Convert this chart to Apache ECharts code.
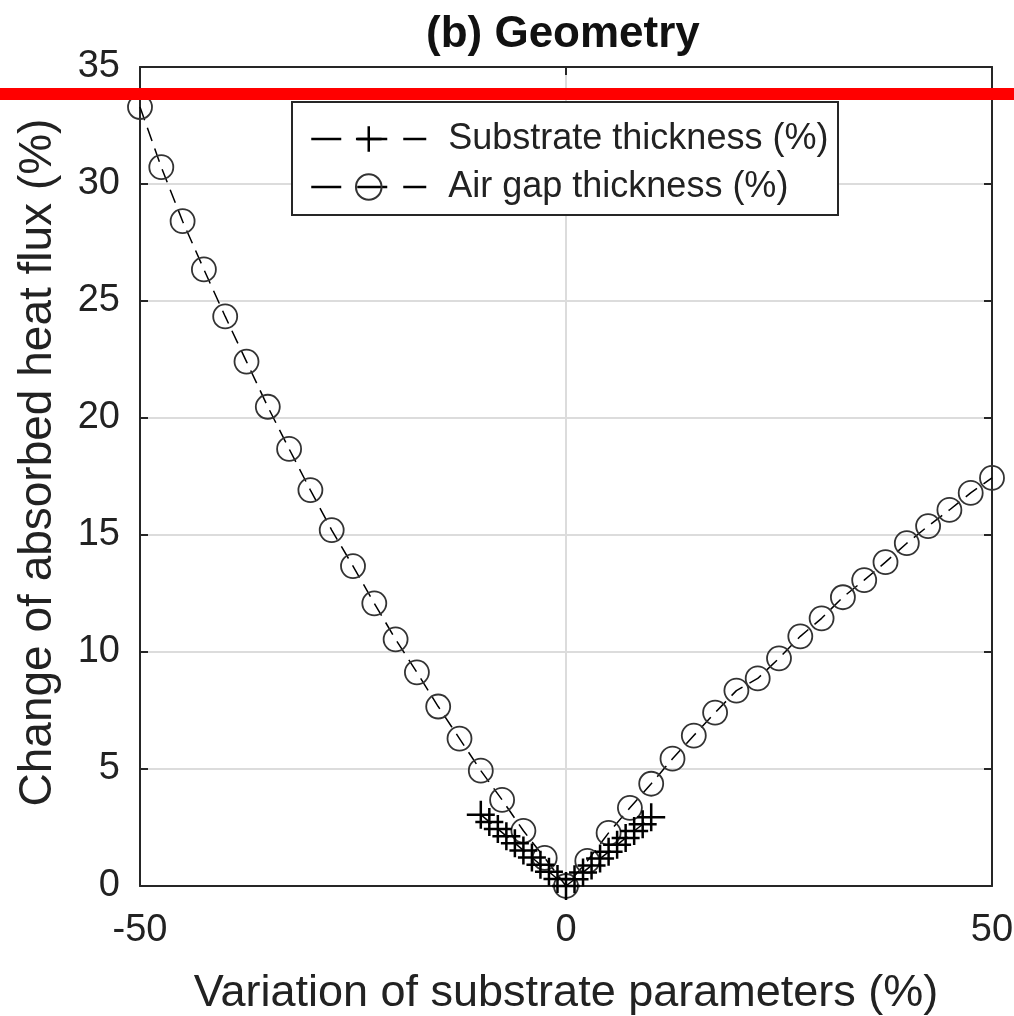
<!DOCTYPE html>
<html>
<head>
<meta charset="utf-8">
<title>(b) Geometry</title>
<script src="https://cdn.jsdelivr.net/npm/echarts@6/dist/echarts.min.js"></script>
<style>
  html, body { margin: 0; padding: 0; background: #fff; }
  #chart { width: 1014px; height: 1016px; }
</style>
</head>
<body>
<div id="chart"></div>
<script>
// Substrate thickness variation (%) and resulting change of absorbed heat flux (%)
const substrateX = [-10, -9, -8, -7, -6, -5, -4, -3, -2, -1, 0, 1, 2, 3, 4, 5, 6, 7, 8, 9, 10];
const substrateY = [3.05, 2.74, 2.44, 2.13, 1.83, 1.52, 1.22, 0.91, 0.61, 0.30, 0,
                    0.29, 0.58, 0.88, 1.17, 1.46, 1.76, 2.05, 2.35, 2.64, 2.94];

// Air gap thickness variation (%) and resulting change of absorbed heat flux (%)
const airGapX = [-50, -47.5, -45, -42.5, -40, -37.5, -35, -32.5, -30, -27.5, -25, -22.5, -20,
                 -17.5, -15, -12.5, -10, -7.5, -5, -2.5, 0,
                 2.5, 5, 7.5, 10, 12.5, 15, 17.5, 20, 22.5, 25, 27.5, 30, 32.5, 35, 37.5,
                 40, 42.5, 45, 47.5, 50];
const airGapY = [33.29, 30.72, 28.41, 26.35, 24.34, 22.41, 20.48, 18.68, 16.92, 15.21, 13.67,
                 12.08, 10.54, 9.13, 7.67, 6.30, 4.93, 3.68, 2.36, 1.20, 0,
                 1.07, 2.27, 3.34, 4.37, 5.44, 6.43, 7.41, 8.35, 8.87, 9.73, 10.67, 11.44,
                 12.34, 13.07, 13.84, 14.65, 15.38, 16.07, 16.80, 17.44];

// Axis ranges and tick steps
const xRange = [-50, 50], xStep = 50;
const yRange = [0, 35], yStep = 5;

const seriesNames = ['Substrate thickness (%)', 'Air gap thickness (%)'];
const titleText = '(b) Geometry';
const xTitle = 'Variation of substrate parameters (%)';
const yTitle = 'Change of absorbed heat flux (%)';

const FONT = '"Liberation Sans", Arial, Helvetica, sans-serif';
const INK = '#262626';

const zip = (xs, ys) => xs.map((x, i) => [x, ys[i]]);

const frameLine = { show: true, onZero: false, lineStyle: { color: INK, width: 2 } };
const innerTick = { show: true, inside: true, length: 8, lineStyle: { color: INK, width: 2 } };

// mirrored axes that close the box and repeat the ticks on the top and right sides
const mirrorAxis = {
  axisLine: frameLine,
  axisTick: innerTick,
  axisLabel: { show: false },
  splitLine: { show: false }
};

const chart = echarts.init(document.getElementById('chart'), null, { renderer: 'canvas' });

chart.setOption({
  backgroundColor: '#fff',
  animation: false,
  textStyle: { fontFamily: FONT },
  title: {
    text: titleText,
    left: 421,
    top: 8,
    textStyle: { fontFamily: FONT, fontSize: 44, fontWeight: 'bold', color: '#111' }
  },
  grid: { left: 140, right: 22, top: 67, bottom: 130, outerBoundsMode: 'none', containLabel: false },
  xAxis: [
    {
      type: 'value', min: xRange[0], max: xRange[1], interval: xStep,
      name: xTitle, nameLocation: 'middle', nameGap: 85,
      nameTextStyle: { fontFamily: FONT, fontSize: 45, color: '#222' },
      axisLine: frameLine,
      axisTick: innerTick,
      axisLabel: { fontFamily: FONT, fontSize: 38, color: '#222', margin: 26 },
      splitLine: { show: true, lineStyle: { color: '#dcdcdc', width: 2 } }
    },
    Object.assign({ type: 'value', position: 'top', min: xRange[0], max: xRange[1], interval: xStep }, mirrorAxis)
  ],
  yAxis: [
    {
      type: 'value', min: yRange[0], max: yRange[1], interval: yStep,
      name: yTitle, nameLocation: 'middle', nameGap: 79,
      nameTextStyle: { fontFamily: FONT, fontSize: 46, color: '#222', padding: [0, 0, 0, 28] },
      axisLine: frameLine,
      axisTick: innerTick,
      axisLabel: { fontFamily: FONT, fontSize: 38, color: '#222', margin: 20 },
      splitLine: { show: true, lineStyle: { color: '#dcdcdc', width: 2 } }
    },
    Object.assign({ type: 'value', position: 'right', min: yRange[0], max: yRange[1], interval: yStep }, mirrorAxis)
  ],
  legend: {
    orient: 'vertical',
    left: 310,
    top: 121,
    padding: 0,
    itemWidth: 115,
    itemHeight: 32,
    itemGap: 12,
    z: 5,
    textStyle: { fontFamily: FONT, fontSize: 36, color: '#222', padding: [0, 0, 0, 17] },
    lineStyle: { color: '#000', width: 2.5, type: [30, 16] },
    data: [
      { name: seriesNames[0], itemStyle: { borderWidth: 2.5, borderColor: '#000' } },
      { name: seriesNames[1], itemStyle: { borderWidth: 2, borderColor: '#333' } }
    ]
  },
  graphic: [
    {
      // legend frame
      type: 'rect', z: 4,
      shape: { x: 292, y: 102, width: 546, height: 113 },
      style: { fill: '#fff', stroke: INK, lineWidth: 2 }
    },
    {
      // red reference band across the figure
      type: 'rect', z: 100,
      shape: { x: 0, y: 88, width: 1014, height: 12 },
      style: { fill: '#ff0000' }
    }
  ],
  series: [
    {
      name: seriesNames[0],
      type: 'line',
      data: zip(substrateX, substrateY),
      clip: false,
      showAllSymbol: true,
      symbol: 'path://M0,14L28,14M14,0L14,28',
      symbolSize: 28,
      lineStyle: { color: '#000', width: 1.5, type: [14, 8] },
      itemStyle: { color: 'transparent', borderColor: '#000', borderWidth: 2.5 },
      z: 3
    },
    {
      name: seriesNames[1],
      type: 'line',
      data: zip(airGapX, airGapY),
      clip: false,
      showAllSymbol: true,
      symbol: 'circle',
      symbolSize: 24,
      lineStyle: { color: '#000', width: 1.5, type: [14, 8] },
      itemStyle: { color: 'transparent', borderColor: '#333', borderWidth: 1.8 },
      z: 2
    }
  ]
});
</script>
</body>
</html>
